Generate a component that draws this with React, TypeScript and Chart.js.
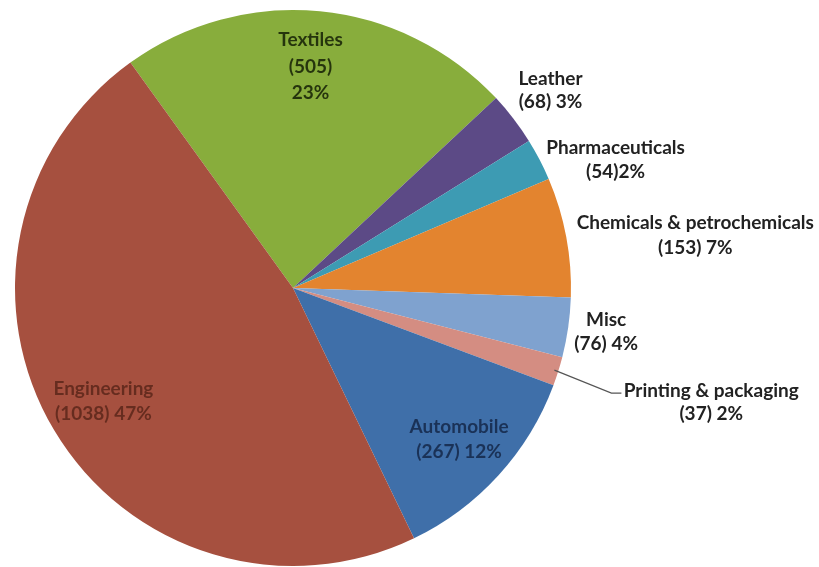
import React, { useEffect, useRef } from "react";
import { Chart, registerables } from "chart.js";

Chart.register(...registerables);

const categories = [
  "Textiles",
  "Leather",
  "Pharmaceuticals",
  "Chemicals & petrochemicals",
  "Misc",
  "Printing & packaging",
  "Automobile",
  "Engineering",
];
const counts = [505, 68, 54, 153, 76, 37, 267, 1038];
const percentLabels = ["23%", "3%", "2%", "7%", "4%", "2%", "12%", "47%"];
const labelLines = [
  ["Textiles", "(505)", "23%"],
  ["Leather", "(68) 3%"],
  ["Pharmaceuticals", "(54)2%"],
  ["Chemicals & petrochemicals", "(153) 7%"],
  ["Misc", "(76) 4%"],
  ["Printing & packaging", "(37) 2%"],
  ["Automobile", "(267) 12%"],
  ["Engineering", "(1038) 47%"],
];

const colors = [
  "#88ad3c",
  "#5c4a86",
  "#3d9bb3",
  "#e3842f",
  "#7fa2cf",
  "#d48d82",
  "#3f6fa9",
  "#a6503f",
];

// label placement: radius factor at slice middle, then pixel offset
const labelPlace = [
  { f: 0.8, dx: -4, dy: 0, lh: 26.5, color: "rgba(20,30,5,0.85)" },
  { f: 1, dx: 37, dy: -28, lh: 23, color: "#222" },
  { f: 1, dx: 76, dy: 0, lh: 24, color: "#222" },
  { f: 1, dx: 129, dy: -2, lh: 25, color: "#222" },
  { f: 1, dx: 38, dy: 4, lh: 24, color: "#222" },
  { f: 1, dx: 153, dy: 31, lh: 23, color: "#222" },
  { f: 0.808, dx: 0, dy: 0, lh: 25, color: "rgba(15,30,60,0.75)" },
  { f: 0.794, dx: 0, dy: 0, lh: 25, color: "rgba(60,20,10,0.6)" },
];

const labelPlugin = {
  id: "sliceLabels",
  afterDraw(chart: any) {
    const ctx = chart.ctx;
    const meta = chart.getDatasetMeta(0);
    ctx.save();
    ctx.font = "bold 19px Lato, 'Open Sans', sans-serif";
    ctx.textAlign = "center";
    ctx.textBaseline = "middle";
    meta.data.forEach((arc: any, i: number) => {
      const p = labelPlace[i];
      const mid = (arc.startAngle + arc.endAngle) / 2;
      const r = arc.outerRadius * p.f;
      const cx = arc.x + Math.cos(mid) * r + p.dx;
      const cy = arc.y + Math.sin(mid) * r + p.dy;
      const lines = labelLines[i];
      const total = (lines.length - 1) * p.lh;
      ctx.fillStyle = p.color;
      lines.forEach((t, j) => {
        ctx.fillText(t, cx, cy - total / 2 + j * p.lh);
      });
      if (i === 5) {
        const ex = arc.x + Math.cos(mid) * (arc.outerRadius - 4);
        const ey = arc.y + Math.sin(mid) * (arc.outerRadius - 4);
        ctx.strokeStyle = "#555";
        ctx.lineWidth = 1.2;
        ctx.beginPath();
        ctx.moveTo(ex, ey);
        ctx.lineTo(ex + 57, ey + 23);
        ctx.lineTo(ex + 67, ey + 23);
        ctx.stroke();
      }
    });
    ctx.restore();
  },
};

export default function App() {
  const ref = useRef<HTMLCanvasElement>(null);
  useEffect(() => {
    if (!ref.current) return;
    const chart = new Chart(ref.current, {
      type: "pie",
      data: {
        labels: categories,
        datasets: [
          {
            data: counts,
            backgroundColor: colors,
            borderWidth: 0,
          },
        ],
      },
      options: {
        animation: false,
        responsive: false,
        rotation: -35.8,
        layout: { padding: { left: 15, right: 248, top: 10, bottom: 1 } },
        plugins: {
          legend: { display: false },
          tooltip: { enabled: false },
        },
      },
      plugins: [labelPlugin],
    });
    return () => chart.destroy();
  }, []);
  return (
    <div style={{ position: "absolute", left: 0, top: 0, width: 819, height: 567, background: "#fff" }}>
      <canvas ref={ref} width={819} height={567} data-pct={percentLabels.join(",")} />
    </div>
  );
}
